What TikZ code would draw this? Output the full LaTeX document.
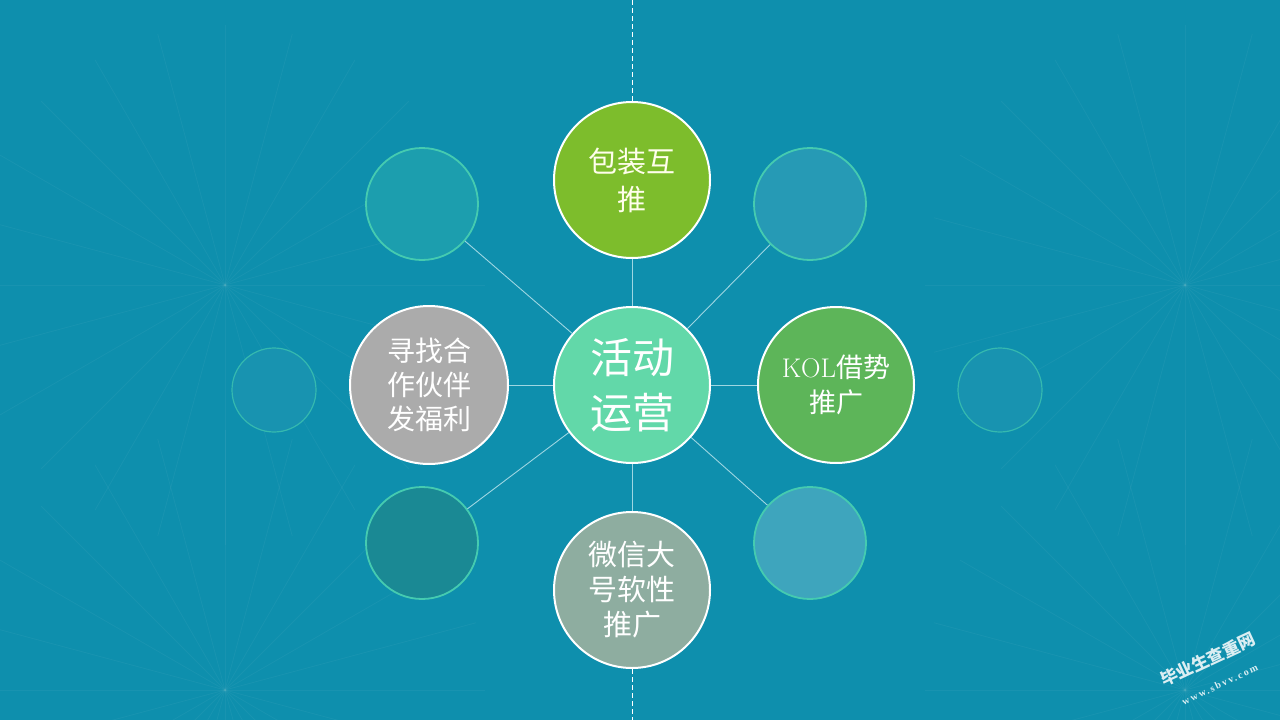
\documentclass[tikz,border=0pt]{standalone}
\usepackage{fontspec}
\newfontfamily\cjk{Noto Sans CJK SC}
\newfontfamily\wmserif[LetterSpace=18]{Liberation Serif}

\definecolor{bgblue}{HTML}{0E8FAD}
\definecolor{mint}{HTML}{62D8A9}
\definecolor{leafgreen}{HTML}{7DBD2C}
\definecolor{grassgreen}{HTML}{5DB559}
\definecolor{stonegray}{HTML}{ABABAB}
\definecolor{sagegray}{HTML}{8EADA0}
\definecolor{rimgreen}{HTML}{45CBB0}
\definecolor{spokeblue}{HTML}{9ED6E2}

\begin{document}
\begin{tikzpicture}[x=1pt,y=-1pt,
    bigball/.style={circle,draw=white,line width=2pt,inner sep=0pt,minimum size=156pt,
        text=white,align=center},
    smallball/.style={circle,draw=rimgreen,line width=1.8pt,inner sep=0pt,minimum size=112pt},
    farball/.style={circle,draw=rimgreen!70!bgblue,line width=1.2pt,inner sep=0pt,minimum size=84pt,
        fill=bgblue!96!white},
    spoke/.style={spokeblue,line width=0.9pt},
    guide/.style={white,dashed,line width=0.9pt,dash pattern=on 5pt off 3pt}]

    \useasboundingbox (0,0) rectangle (1280,720);
    \fill[bgblue] (0,0) rectangle (1280,720);

    % faint texture behind everything
    \begin{scope}[white,opacity=0.045,line width=0.8pt]
       \clip (0,0) rectangle (1280,720);
       \foreach \hx/\hy in {225/285, 1185/285, 225/690, 1185/690} {
          \foreach \a in {0,15,...,345}
             \draw (\hx,\hy) -- ++(\a:260);
       }
    \end{scope}

    % outer small balls
    \node[farball] (farleft)  at (274,390) {};
    \node[farball] (farright) at (1000,390) {};

    \node[smallball,fill=rimgreen!25!bgblue] (upleft)    at (422,204) {};
    \node[smallball,fill=white!10!bgblue]    (upright)   at (810,204) {};
    \node[smallball,fill=rimgreen!30!bgblue!85!black] (downleft) at (422,543) {};
    \node[smallball,fill=white!20!bgblue]    (downright) at (810,543) {};

    % main balls
    \node[bigball,fill=mint,font=\cjk\fontsize{42}{55}\selectfont] (hub) at (632,385) {活动\\运营};
    \node[bigball,fill=leafgreen,text=white!92!yellow,font=\cjk\fontsize{29}{38}\selectfont] (pack) at (632,180) {包装互\\推};
    \node[bigball,fill=grassgreen,font=\cjk\fontsize{27}{35}\selectfont] (kol) at (836,385) {{\rmfamily KOL}借势\\推广};
    \node[bigball,fill=stonegray,minimum size=158pt,font=\cjk\fontsize{28}{34}\selectfont] (partner) at (429,385) {寻找合\\作伙伴\\发福利};
    \node[bigball,fill=sagegray,font=\cjk\fontsize{29}{35}\selectfont] (wechat) at (632,590) {微信大\\号软性\\推广};

    % spokes from the hub
    \draw[spoke] (hub) -- (pack);
    \draw[spoke] (hub) -- (kol);
    \draw[spoke] (hub) -- (partner);
    \draw[spoke] (hub) -- (wechat);
    \draw[spoke] (hub) -- (upleft);
    \draw[spoke] (hub) -- (upright);
    \draw[spoke] (hub) -- (downleft);
    \draw[spoke] (hub) -- (downright);

    % dashed guide line
    \coordinate (topedge) at (632,0);
    \coordinate (bottomedge) at (632,720);
    \draw[guide] (topedge) -- (pack);
    \draw[guide] (wechat) -- (bottomedge);

    % watermark
    \node[white,opacity=0.85,rotate=25,align=center,inner sep=0pt,
          font=\cjk\bfseries\fontsize{17}{25}\selectfont] (watermark) at (1213,670)
          {毕业生查重网\\{\wmserif\bfseries\fontsize{10}{10}\selectfont www.sbvv.com}};

\end{tikzpicture}
\end{document}
